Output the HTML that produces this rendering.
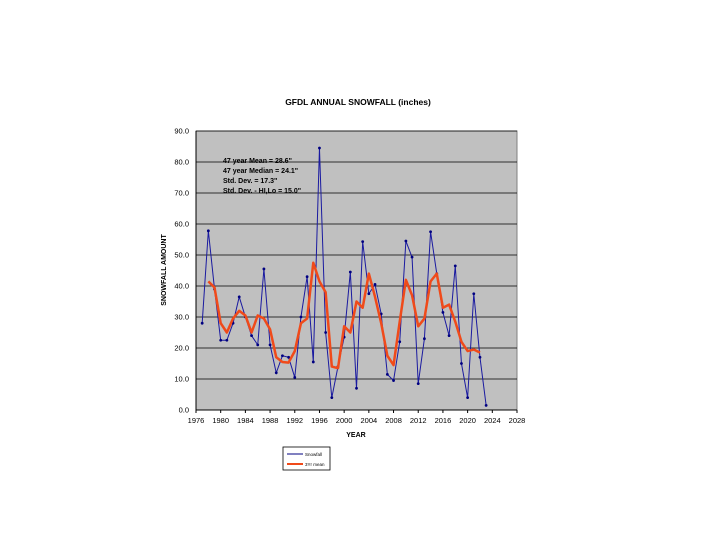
<!DOCTYPE html>
<html><head><meta charset="utf-8"><style>
body{margin:0;background:#fff;}
svg{display:block;font-family:"Liberation Sans",Arial,sans-serif;}
</style></head><body>
<svg id="c" width="720" height="556" viewBox="0 0 720 556">
<text x="358" y="105" font-size="8.5" font-weight="bold" text-anchor="middle">GFDL ANNUAL SNOWFALL  (inches)</text>
<rect x="196" y="131" width="321" height="279" fill="#c0c0c0" stroke="#808080"/>
<g id="grid"></g>
<g id="ticks" font-size="7.5"></g>
<text transform="translate(166,270) rotate(-90)" font-size="7" font-weight="bold" text-anchor="middle">SNOWFALL AMOUNT</text>
<text x="356" y="437" font-size="7" font-weight="bold" text-anchor="middle">YEAR</text>
<g font-size="7" font-weight="bold">
<text x="223" y="163">47 year Mean = 28.6"</text>
<text x="223" y="173">47 year Median = 24.1"</text>
<text x="223" y="183">Std. Dev. = 17.3"</text>
<text x="223" y="193">Std. Dev. - HI,Lo = 15.0"</text>
</g>
<g id="series"></g>
<g>
<rect x="283" y="447" width="47" height="23" fill="#fff" stroke="#000" stroke-width="0.8"/>
<line x1="287" y1="454" x2="303" y2="454" stroke="#000080" stroke-width="1"/>
<text x="305" y="456" font-size="4.5">Snowfall</text>
<line x1="287" y1="464" x2="303" y2="464" stroke="#f04a1a" stroke-width="2"/>
<text x="305" y="466" font-size="4.5">3Yr mean</text>
</g>
</svg>
<script>
const years=[1977,1978,1979,1980,1981,1982,1983,1984,1985,1986,1987,1988,1989,1990,1991,1992,1993,1994,1995,1996,1997,1998,1999,2000,2001,2002,2003,2004,2005,2006,2007,2008,2009,2010,2011,2012,2013,2014,2015,2016,2017,2018,2019,2020,2021,2022,2023];
const snowfall=[28.0,57.8,39,22.5,22.5,28,36.5,30,24,21,45.5,21,12,17.5,17,10.5,30,43,15.5,84.5,25,4,14,23.5,44.5,7,54.3,37.5,40.5,31,11.5,9.5,22,54.5,49.3,8.5,23,57.5,44,31.5,24,46.5,15,4,37.5,17,1.5];
const meanYears=[1978,1979,1980,1981,1982,1983,1984,1985,1986,1987,1988,1989,1990,1991,1992,1993,1994,1995,1996,1997,1998,1999,2000,2001,2002,2003,2004,2005,2006,2007,2008,2009,2010,2011,2012,2013,2014,2015,2016,2017,2018,2019,2020,2021,2022];
const mean3=[41.5,39.5,28,25,29.5,32,30.5,25,30.5,29.5,26,17,15.5,15.3,19,28,29.5,47.5,41.5,38,14,13.5,27,25,35,33,44,36.5,28,17.5,14.5,28.5,42,37,27,29.5,41.5,44,33,34,28.5,22,19,19.5,18.5];
const yTicks=[0,10,20,30,40,50,60,70,80,90];
const xTicks=[1976,1980,1984,1988,1992,1996,2000,2004,2008,2012,2016,2020,2024,2028];
const NS="http://www.w3.org/2000/svg";
const X=v=>196+(v-1976)*(321/52);
const Y=v=>410-v*(279/90);
function mk(t,a,p){const e=document.createElementNS(NS,t);for(const k in a)e.setAttribute(k,a[k]);p.appendChild(e);return e;}
const grid=document.getElementById('grid'),ticks=document.getElementById('ticks'),ser=document.getElementById('series');
yTicks.forEach(v=>{
 if(v>0){const l=mk('line',{x1:196,x2:517,y1:Y(v),y2:Y(v),stroke:'#000','stroke-width':0.8},grid);
 
 }
 const t=mk('text',{x:189,y:Y(v)+2.5,'text-anchor':'end'},ticks);t.textContent=v.toFixed(1);
 
 
});
mk('line',{x1:196,x2:517,y1:410,y2:410,stroke:'#000'},grid);
mk('line',{x1:196,x2:196,y1:131,y2:410,stroke:'#000'},grid);
xTicks.forEach(v=>{
 mk('line',{x1:X(v),x2:X(v),y1:410,y2:413,stroke:'#000'},grid);
 const t=mk('text',{x:X(v),y:423,'text-anchor':'middle'},ticks);t.textContent=v;
 
 
});
const p1=mk('polyline',{points:years.map((y,i)=>X(y)+','+Y(snowfall[i])).join(' '),fill:'none',stroke:'#1a1aa0','stroke-width':1},ser);


years.forEach((y,i)=>{const c=mk('circle',{cx:X(y),cy:Y(snowfall[i]),r:1.4,fill:'#000080'},ser);
 
 });
const p2=mk('polyline',{points:meanYears.map((y,i)=>X(y)+','+Y(mean3[i])).join(' '),fill:'none',stroke:'#f04a1a','stroke-width':2.5,'stroke-linejoin':'round'},ser);


</script>
</body></html>
